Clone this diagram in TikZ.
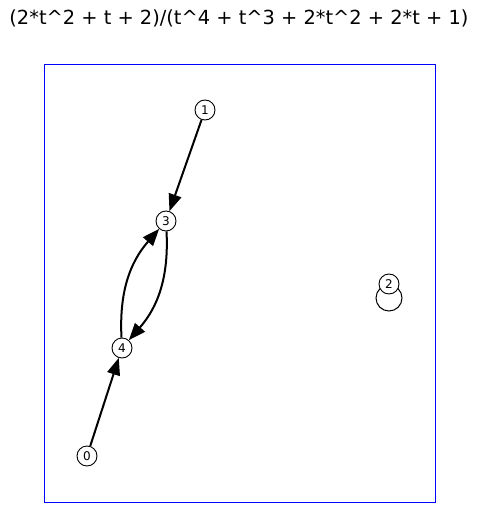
\documentclass[tikz,border=0pt]{standalone}
\usepackage{fontspec}
\setmainfont{DejaVu Sans}
\usetikzlibrary{arrows.meta}
\tikzset{
  state/.style={draw, circle, fill=white, inner sep=0pt, minimum size=20pt, font=\fontsize{12}{12}\selectfont, line width=0.9pt},
  trans/.style={-{Triangle[length=17pt,width=13pt]}, line width=2pt},
}

\begin{document}
\begin{tikzpicture}[x=1pt, y=-1pt]
\useasboundingbox (0,0) rectangle (478,522);
\node (T) at (239,18) [] {\fontsize{19.4}{20}\selectfont (2*t\^{}2 + t + 2)/(t\^{}4 + t\^{}3 + 2*t\^{}2 + 2*t + 1)};
\draw [blue, line width=1pt] (44,64) rectangle (435,502);

\coordinate (L2) at (389,298);
\draw [line width=1pt] (L2) circle (13);

\node (S1) at (205,110) [state] {1};
\node (S3) at (166,221) [state] {3};
\node (S4) at (122,348) [state] {4};
\node (S0) at (87,456) [state] {0};
\node (S2) at (389,284) [state] {2};

\draw [trans] (S1) -- (S3);
\draw [trans] (S3) to[bend left=22] (S4);
\draw [trans] (S4) to[bend left=22] (S3);
\draw [trans] (S0) -- (S4);
\end{tikzpicture}
\end{document}
